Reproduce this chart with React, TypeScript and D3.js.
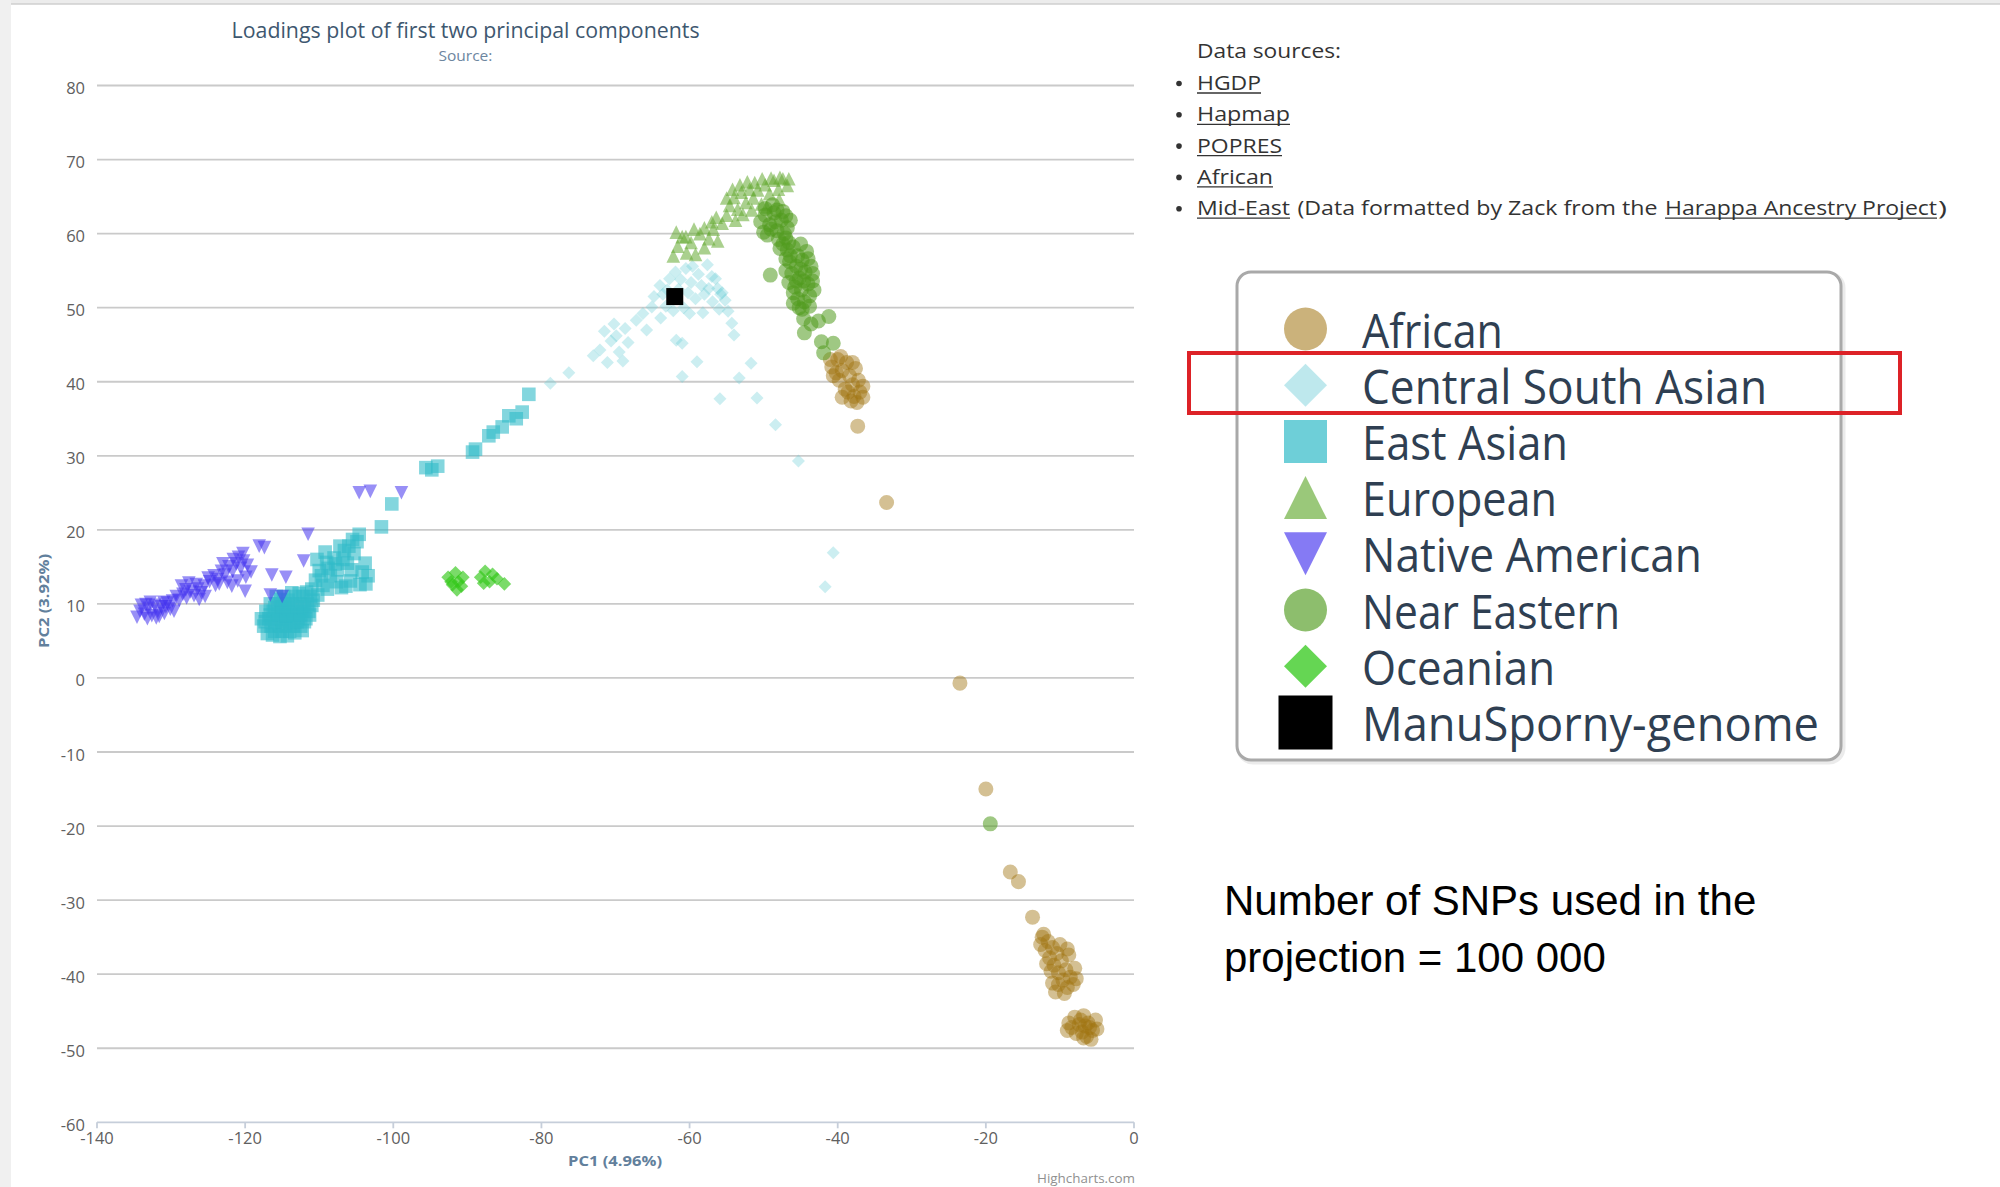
import React from 'react';
import * as d3 from 'd3';

// ---- data (PC1, PC2) ----
const african: [number, number][] = [
  [-40.8, 42.0], [-40.0, 43.0], [-39.4, 41.5], [-38.8, 42.6], [-39.8, 40.2], [-38.4, 40.8],
  [-37.6, 41.8], [-38.0, 39.6], [-37.2, 40.2], [-38.6, 38.6], [-37.8, 38.0], [-37.0, 38.6],
  [-38.2, 37.4], [-36.6, 39.4], [-40.6, 40.8], [-39.0, 39.0],
  [-41.0, 43.0], [-39.6, 43.4], [-38.0, 42.6], [-40.2, 41.2], [-37.4, 37.2], [-36.6, 37.9], [-39.4, 37.9],
  [-37.3, 34.0], [-33.4, 23.7], [-23.5, -0.7], [-20.0, -15.0], [-16.7, -26.2], [-15.6, -27.5], [-13.7, -32.3],
  [-12.4, -35.0], [-11.6, -35.6], [-12.0, -36.8], [-11.0, -36.4], [-11.4, -37.8], [-10.4, -37.2],
  [-10.8, -38.8], [-9.8, -38.2], [-10.2, -39.8], [-9.2, -39.4], [-9.6, -40.8], [-8.6, -40.4],
  [-9.0, -41.8], [-8.2, -41.4], [-10.6, -42.4], [-9.4, -42.6], [-12.6, -36.0], [-11.8, -38.6],
  [-8.8, -37.4], [-10.0, -36.0], [-12.2, -34.6], [-11.2, -39.6], [-10.2, -41.4], [-8.0, -39.2],
  [-7.8, -40.6], [-11.0, -41.2], [-9.0, -36.6],
  [-8.8, -46.6], [-8.0, -45.8], [-7.4, -46.8], [-6.8, -45.6], [-6.2, -46.6], [-5.6, -47.6],
  [-7.0, -47.8], [-6.4, -48.4], [-5.2, -46.2], [-7.8, -48.0], [-9.0, -47.6], [-5.8, -48.8],
  [-8.4, -47.2], [-7.2, -46.2], [-6.0, -47.2], [-5.0, -47.4], [-6.6, -47.0], [-6.8, -48.6],
];

const centralSouthAsian: [number, number][] = [
  [-78.8, 39.8], [-76.3, 41.2], [-73.0, 43.5],
  [-72.1, 44.3], [-71.1, 42.6], [-70.6, 45.5], [-69.9, 46.2], [-69.5, 44.0], [-68.7, 47.2],
  [-70.2, 47.8], [-71.5, 46.8], [-69.0, 42.8], [-68.3, 45.3],
  [-67.2, 48.3], [-66.3, 49.2], [-65.1, 50.1], [-63.9, 48.6], [-65.8, 47.0],
  [-64.8, 51.5], [-64.0, 53.0], [-63.2, 50.2], [-62.7, 53.9], [-61.9, 54.8], [-61.5, 52.5],
  [-60.8, 50.0], [-60.5, 55.3], [-59.8, 53.4], [-59.2, 51.2], [-58.8, 54.5], [-58.2, 49.3],
  [-57.6, 55.8], [-57.4, 52.6], [-56.9, 50.8], [-56.5, 53.9], [-56.0, 49.8], [-55.6, 52.0],
  [-55.2, 51.0], [-54.8, 49.5], [-60.0, 49.2], [-62.2, 49.6], [-58.0, 51.8], [-63.6, 51.8], [-57.0, 54.2],
  [-63.0, 52.4], [-60.2, 52.0], [-58.4, 53.0], [-56.2, 52.6], [-61.2, 53.8], [-59.6, 55.6], [-55.8, 51.8],
  [-61.8, 45.6], [-61.0, 45.2], [-59.0, 42.7], [-61.0, 40.7], [-54.0, 46.3], [-54.3, 47.9],
  [-51.7, 42.5], [-53.3, 40.5], [-55.9, 37.7], [-50.9, 37.8], [-48.4, 34.2], [-45.3, 29.3],
  [-40.6, 16.9], [-41.7, 12.3],
];

const eastAsian: [number, number][] = [
  [-117.5, 7.0], [-116.5, 7.0], [-115.5, 7.0], [-114.5, 7.0], [-113.5, 7.0], [-112.5, 7.0],
  [-117.8, 8.0], [-116.8, 8.0], [-115.8, 8.0], [-114.8, 8.0], [-113.8, 8.0], [-112.8, 8.0], [-111.8, 8.0],
  [-117.2, 9.0], [-116.2, 9.0], [-115.2, 9.0], [-114.2, 9.0], [-113.2, 9.0], [-112.2, 9.0], [-111.4, 9.0],
  [-116.6, 10.0], [-115.6, 10.0], [-114.6, 10.0], [-113.6, 10.0], [-112.6, 10.0], [-111.6, 10.0],
  [-115.8, 11.0], [-114.8, 11.0], [-113.2, 11.0], [-112.2, 11.0], [-111.2, 11.0],
  [-116.0, 6.3], [-115.0, 6.3], [-114.0, 6.3],
  [-117.0, 6.0], [-116.3, 5.8], [-115.3, 5.6], [-114.3, 5.7], [-113.3, 6.1], [-112.3, 6.4],
  [-117.3, 7.6], [-116.0, 7.5], [-115.0, 7.6], [-114.0, 7.5], [-113.0, 7.6], [-112.0, 7.6],
  [-111.3, 8.5], [-116.6, 8.5], [-115.5, 8.6], [-114.5, 8.4], [-113.5, 8.5], [-112.5, 8.6],
  [-116.0, 9.5], [-115.0, 9.6], [-114.0, 9.5], [-113.0, 9.6], [-112.0, 9.5], [-111.0, 9.8],
  [-115.2, 10.6], [-114.2, 10.5], [-113.7, 11.5], [-112.7, 11.4], [-111.7, 11.6], [-110.8, 10.5],
  [-110.2, 11.2], [-109.7, 13.8], [-108.8, 14.8], [-107.8, 15.4], [-107.2, 17.8], [-106.8, 16.0],
  [-106.0, 17.8], [-105.6, 14.6], [-104.2, 14.3], [-103.8, 15.5], [-103.4, 13.8], [-107.7, 13.0],
  [-106.4, 12.4], [-108.9, 12.0], [-110.3, 16.0], [-109.2, 17.0],
  [-111.0, 12.0], [-110.5, 13.2], [-110.0, 14.5], [-109.5, 12.5], [-109.0, 15.6], [-108.5, 13.8],
  [-108.0, 16.2], [-107.5, 14.6], [-107.0, 12.2], [-106.6, 17.2], [-106.2, 15.5], [-105.8, 13.1],
  [-105.3, 16.8], [-104.9, 18.4], [-104.5, 12.6], [-103.7, 12.7], [-105.5, 18.7], [-104.6, 19.4],
  [-101.6, 20.4], [-100.2, 23.5], [-95.6, 28.4], [-94.0, 28.6], [-94.8, 28.1], [-89.3, 30.5],
  [-88.9, 30.9], [-87.1, 32.7], [-86.5, 33.2], [-85.3, 33.9], [-84.4, 35.4], [-82.6, 35.9],
  [-83.4, 35.0], [-81.7, 38.3],
];

const european: [number, number][] = [
  [-62.2, 57.0], [-61.6, 58.3], [-61.0, 59.6], [-60.4, 57.4], [-59.8, 58.8], [-59.2, 57.2],
  [-58.6, 60.0], [-58.0, 58.1], [-57.4, 59.3], [-56.8, 60.6], [-56.2, 59.0], [-55.6, 61.4],
  [-55.0, 62.5], [-54.6, 63.8], [-54.0, 64.9], [-53.5, 63.3], [-53.0, 65.6], [-52.4, 64.2],
  [-51.9, 66.0], [-51.4, 64.8], [-50.8, 65.9], [-50.3, 64.0], [-49.8, 66.6], [-49.2, 65.4],
  [-48.6, 67.2], [-48.0, 66.0], [-47.4, 67.4], [-46.8, 66.5], [-47.9, 64.6], [-57.0, 61.6], [-60.5, 59.6],
  [-55.0, 64.8], [-54.2, 66.0], [-53.2, 66.6], [-52.2, 67.0], [-51.2, 66.9], [-50.2, 67.4],
  [-49.0, 67.5], [-47.8, 67.6], [-46.6, 67.4], [-52.8, 62.6], [-51.6, 63.2], [-49.6, 63.6],
  [-56.4, 62.2], [-58.0, 60.8], [-59.4, 60.6], [-61.8, 60.2], [-53.8, 61.8],
];

const nativeAmerican: [number, number][] = [
  [-134.2, 9.0], [-133.6, 8.6], [-133.0, 9.4], [-132.6, 8.4], [-132.2, 9.8], [-131.8, 9.0],
  [-131.3, 9.6], [-130.9, 8.7], [-130.5, 10.1], [-130.1, 9.3], [-129.8, 10.4], [-133.4, 9.9],
  [-132.0, 8.1], [-131.0, 10.2],
  [-134.6, 8.2], [-134.0, 9.8], [-133.2, 8.0], [-132.8, 10.2], [-131.6, 8.3], [-130.7, 9.6],
  [-129.6, 9.0], [-129.3, 11.0], [-128.6, 12.4], [-127.6, 12.8], [-126.2, 10.6], [-125.4, 11.0],
  [-128.9, 10.5], [-128.4, 11.3], [-127.9, 10.8], [-127.4, 11.6], [-126.9, 11.1], [-126.4, 12.0],
  [-125.9, 11.5], [-125.5, 12.4], [-128.0, 11.9], [-126.6, 12.6],
  [-124.8, 13.0], [-124.2, 13.8], [-123.7, 13.3], [-123.2, 14.4], [-122.7, 13.9], [-122.2, 15.0],
  [-121.7, 14.4], [-121.2, 15.4], [-120.6, 14.8], [-120.2, 15.8], [-119.7, 15.2], [-123.5, 12.7], [-121.0, 13.1],
  [-125.0, 13.5], [-124.0, 12.5], [-123.0, 15.4], [-122.4, 12.9], [-121.6, 16.0], [-120.9, 16.3], [-119.9, 13.6],
  [-120.3, 16.8], [-118.1, 17.8], [-117.4, 17.6], [-119.2, 14.3], [-121.8, 12.4], [-120.0, 11.7],
  [-116.4, 13.9], [-114.5, 13.6], [-116.6, 11.2], [-115.0, 11.0], [-112.1, 15.8], [-111.5, 19.4],
  [-104.6, 25.0], [-103.1, 25.2], [-98.9, 25.0],
];

const nearEastern: [number, number][] = [
  [-49.8, 62.5], [-49.2, 61.2], [-48.6, 62.8], [-48.2, 60.4], [-47.6, 61.8], [-47.2, 60.0],
  [-49.5, 59.8], [-48.0, 59.2], [-47.0, 62.4], [-48.8, 63.9], [-46.6, 58.8], [-47.8, 58.0],
  [-50.4, 61.6], [-50.0, 60.2], [-49.0, 60.6], [-48.4, 61.6], [-47.4, 63.0], [-46.8, 60.8],
  [-49.8, 63.4], [-48.2, 63.2], [-47.0, 59.4], [-46.4, 61.8],
  [-46.8, 57.8], [-46.0, 58.2], [-45.4, 57.0], [-46.5, 56.2], [-45.6, 55.6], [-44.8, 56.4],
  [-46.2, 54.6], [-45.2, 54.0], [-44.4, 54.8], [-45.8, 52.8], [-44.9, 52.4], [-44.0, 53.2],
  [-45.4, 51.2], [-44.5, 50.8], [-43.8, 51.6], [-44.8, 49.8], [-43.6, 55.6], [-47.0, 55.0],
  [-43.4, 53.6], [-46.0, 52.0],
  [-47.4, 58.6], [-47.0, 56.6], [-46.4, 57.0], [-45.0, 58.6], [-44.2, 57.6], [-46.6, 53.4],
  [-45.6, 53.6], [-44.6, 53.6], [-43.2, 52.4], [-46.0, 50.6], [-45.2, 50.0], [-43.8, 50.2],
  [-44.0, 56.6], [-45.0, 55.2], [-43.4, 54.6],
  [-49.1, 54.4], [-44.6, 48.5], [-43.6, 47.8], [-42.6, 48.2], [-41.2, 48.8], [-44.5, 46.6],
  [-42.2, 45.4], [-40.6, 45.2], [-41.9, 43.9], [-19.4, -19.7],
];

const oceanian: [number, number][] = [
  [-92.6, 13.6], [-92.0, 12.6], [-91.6, 14.2], [-91.2, 13.0], [-90.8, 12.4], [-92.2, 13.0],
  [-91.4, 11.9], [-90.6, 13.6],
  [-88.2, 13.6], [-87.6, 14.4], [-87.0, 13.0], [-86.6, 14.0], [-87.8, 12.8], [-86.0, 13.4], [-85.0, 12.7],
];

const manuSporny: [number, number][] = [[-62.0, 51.5]];

const seriesNames = ['African', 'Central South Asian', 'East Asian', 'European', 'Native American', 'Near Eastern', 'Oceanian', 'ManuSporny-genome'];
const xTicks = [-140, -120, -100, -80, -60, -40, -20, 0];
const yTicks = [-60, -50, -40, -30, -20, -10, 0, 10, 20, 30, 40, 50, 60, 70, 80];
const sourceLinks = ['HGDP', 'Hapmap', 'POPRES', 'African'];

const series = [
  { data: african, shape: 'circle', color: 'rgb(160,115,15)', opacity: 0.45, r: 7.5 },
  { data: centralSouthAsian, shape: 'diamond', color: 'rgb(110,205,215)', opacity: 0.35, r: 6.5 },
  { data: eastAsian, shape: 'square', color: 'rgb(48,186,200)', opacity: 0.6, r: 6.8 },
  { data: european, shape: 'triangle', color: 'rgb(100,170,50)', opacity: 0.55, r: 6.8 },
  { data: nativeAmerican, shape: 'triangle-down', color: 'rgb(68,51,238)', opacity: 0.55, r: 6.8 },
  { data: nearEastern, shape: 'circle', color: 'rgb(80,155,30)', opacity: 0.55, r: 7.5 },
  { data: oceanian, shape: 'diamond', color: 'rgb(50,200,25)', opacity: 0.65, r: 6.8 },
  { data: manuSporny, shape: 'square', color: '#000', opacity: 1, r: 8.5 },
];

const marker = (shape: string, x: number, y: number, r: number) => {
  switch (shape) {
    case 'circle':
      return `M${x - r},${y}a${r},${r} 0 1,0 ${2 * r},0a${r},${r} 0 1,0 ${-2 * r},0Z`;
    case 'square':
      return `M${x - r},${y - r}h${2 * r}v${2 * r}h${-2 * r}Z`;
    case 'diamond':
      return `M${x},${y - r}L${x + r},${y}L${x},${y + r}L${x - r},${y}Z`;
    case 'triangle':
      return `M${x},${y - r}L${x + r},${y + r}L${x - r},${y + r}Z`;
    default:
      return `M${x - r},${y - r}L${x + r},${y - r}L${x},${y + r}Z`;
  }
};

const FONT = '"Open Sans", sans-serif';

export default function App() {
  const x = d3.scaleLinear().domain([-140, 0]).range([97, 1134]);
  const y = d3.scaleLinear().domain([-60, 80]).range([1122.3, 85.5]);

  const legendW = [141, 405, 206, 195, 340, 258, 193, 457];
  const legendY = (i: number) => 329 + i * 56.2;
  const srcY = (i: number) => 90 + i * 31.3;
  const srcW = [64, 93, 85, 76, 93];

  return (
    <div style={{ position: 'absolute', left: 0, top: 0 }}>
      <svg width={2000} height={1187} style={{ display: 'block', background: '#fff' }} fontFamily={FONT}>
        {/* page frame */}
        <rect x={0} y={0} width={2000} height={4} fill="#ececec" />
        <line x1={0} x2={2000} y1={4} y2={4} stroke="#cfcfcf" strokeWidth={1.5} />
        <rect x={0} y={0} width={11} height={1187} fill="#f0f0f0" />

        {/* title */}
        <text x={465.6} y={38} textAnchor="middle" fontSize={21} fill="#3e576f" textLength={468} lengthAdjust="spacingAndGlyphs">
          Loadings plot of first two principal components
        </text>
        <text x={465.4} y={61} textAnchor="middle" fontSize={15} fill="#6d869f" textLength={54} lengthAdjust="spacingAndGlyphs">
          Source:
        </text>

        {/* grid */}
        {yTicks.map(t => (
          <g key={t}>
            <line x1={x(-140)} x2={x(0)} y1={y(t)} y2={y(t)} stroke={t === -60 ? '#c6ceda' : '#cacaca'} strokeWidth={1.8} />
            <text x={85} y={y(t) + 8.5} textAnchor="end" fontSize={16.5} fill="#606060">{t}</text>
          </g>
        ))}
        {xTicks.map(t => (
          <g key={t}>
            <line x1={x(t)} x2={x(t)} y1={y(-60)} y2={y(-60) + 6} stroke="#c6ceda" strokeWidth={1.8} />
            <text x={x(t)} y={1143.5} textAnchor="middle" fontSize={16.5} fill="#606060">{t}</text>
          </g>
        ))}

        {/* axis titles */}
        <text x={615} y={1166} textAnchor="middle" fontSize={15} fontWeight="bold" fill="#62809c" textLength={94} lengthAdjust="spacingAndGlyphs">
          PC1 (4.96%)
        </text>
        <text transform="translate(49,601) rotate(-90)" textAnchor="middle" fontSize={15} fontWeight="bold" fill="#62809c" textLength={94} lengthAdjust="spacingAndGlyphs">
          PC2 (3.92%)
        </text>

        {/* points */}
        {series.map((s, i) => (
          <g key={i} fill={s.color} fillOpacity={s.opacity}>
            {s.data.map((d, j) => (
              <path key={j} d={marker(s.shape, x(d[0]), y(d[1]), s.r)} />
            ))}
          </g>
        ))}

        <text x={1135} y={1183} textAnchor="end" fontSize={13} fill="#909090" textLength={98} lengthAdjust="spacingAndGlyphs">
          Highcharts.com
        </text>

        {/* data sources */}
        <g fill="#333" fontSize={20}>
          <text x={1197} y={58} textLength={144} lengthAdjust="spacingAndGlyphs">Data sources:</text>
          {[...sourceLinks, 'Mid-East'].map((s, i) => (
            <g key={s}>
              <circle cx={1179} cy={srcY(i) - 6.5} r={2.8} />
              <text x={1197} y={srcY(i)} textLength={srcW[i]} lengthAdjust="spacingAndGlyphs">{s}</text>
              <line x1={1197} x2={1197 + srcW[i]} y1={srcY(i) + 3} y2={srcY(i) + 3} stroke="#333" strokeWidth={1.3} />
            </g>
          ))}
          <text x={1297.5} y={srcY(4)} textLength={360} lengthAdjust="spacingAndGlyphs">(Data formatted by Zack from the</text>
          <text x={1665} y={srcY(4)} textLength={272} lengthAdjust="spacingAndGlyphs">Harappa Ancestry Project</text>
          <line x1={1665} x2={1937} y1={srcY(4) + 3} y2={srcY(4) + 3} stroke="#333" strokeWidth={1.3} />
          <text x={1938} y={srcY(4)} textLength={9} lengthAdjust="spacingAndGlyphs">)</text>
        </g>

        {/* legend */}
        <rect x={1239} y={274} width={604} height={488} rx={14} fill="none" stroke="rgba(0,0,0,0.08)" strokeWidth={5} />
        <rect x={1237} y={272} width={604} height={488} rx={14} fill="#fff" stroke="#a9a9a9" strokeWidth={3} />
        {seriesNames.map((name, i) => {
          const s = series[i];
          const big = i === 7 ? 27 : 21.5;
          return (
            <g key={name}>
              <path d={marker(s.shape, 1305.5, legendY(i), big)} fill={s.color} fillOpacity={i === 7 ? 1 : Math.min(1, s.opacity + 0.1)} />
              <text x={1362} y={legendY(i) + 18.5} fontSize={47} fill="#2f3f52" textLength={legendW[i]} lengthAdjust="spacingAndGlyphs">
                {name}
              </text>
            </g>
          );
        })}
        <rect x={1189} y={353} width={711} height={60} fill="none" stroke="#dd2227" strokeWidth={4} />

        {/* note */}
        <g fontFamily='"Liberation Sans", Arial, sans-serif' fontSize={42} fill="#000">
          <text x={1224} y={915}>Number of SNPs used in the</text>
          <text x={1224} y={972}>projection = 100 000</text>
        </g>
      </svg>
    </div>
  );
}
